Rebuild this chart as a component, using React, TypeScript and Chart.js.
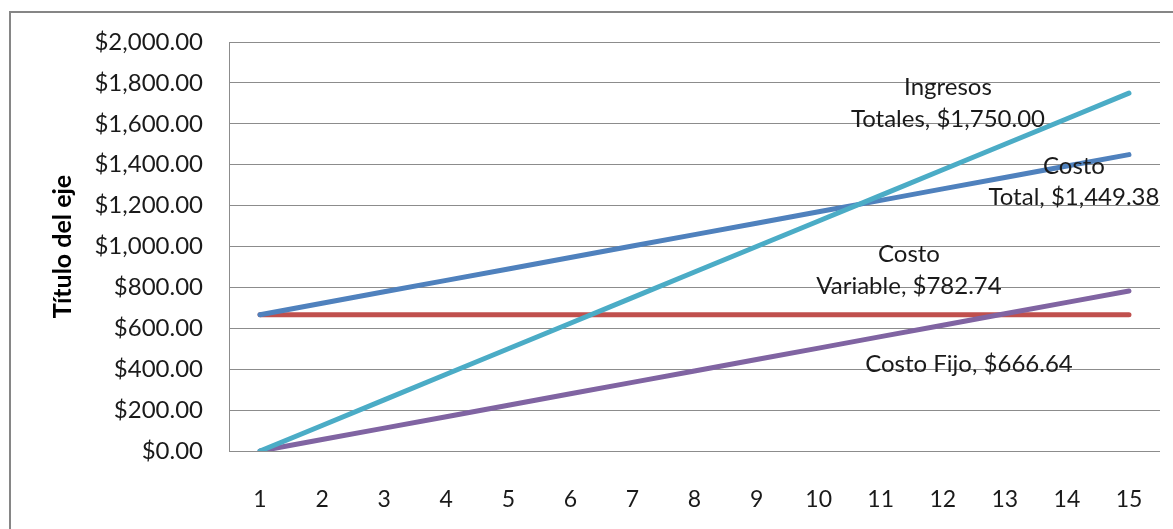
import React, { useEffect, useRef } from "react";
import { Chart, registerables } from "chart.js";

Chart.register(...registerables);

const categories = ["1", "2", "3", "4", "5", "6", "7", "8", "9", "10", "11", "12", "13", "14", "15"];
const ingresosTotales = [0, 125, 250, 375, 500, 625, 750, 875, 1000, 1125, 1250, 1375, 1500, 1625, 1750];
const costoVariable = [0, 55.91, 111.82, 167.73, 223.64, 279.55, 335.46, 391.37, 447.28, 503.19, 559.1, 615.01, 670.92, 726.83, 782.74];
const costoTotal = [666.64, 722.55, 778.46, 834.37, 890.28, 946.19, 1002.1, 1058.01, 1113.92, 1169.83, 1225.74, 1281.65, 1337.56, 1393.47, 1449.38];
const costoFijo = [666.64, 666.64, 666.64, 666.64, 666.64, 666.64, 666.64, 666.64, 666.64, 666.64, 666.64, 666.64, 666.64, 666.64, 666.64];
const yTicks = [0, 200, 400, 600, 800, 1000, 1200, 1400, 1600, 1800, 2000];

const money = (v: number) =>
  "$" + v.toLocaleString("en-US", { minimumFractionDigits: 2, maximumFractionDigits: 2 });

// label layout (offsets relative to last point, in px)
const labelLayout: Record<string, { dx: number; dys: number[]; lines: string[] }> = {
  "Ingresos Totales": { dx: -181, dys: [-6, 26], lines: ["Ingresos", "Totales, " + money(1750)] },
  "Costo Total": { dx: -55, dys: [12, 43], lines: ["Costo", "Total, " + money(1449.38)] },
  "Costo Variable": { dx: -220, dys: [-37, -5], lines: ["Costo", "Variable, " + money(782.74)] },
  "Costo Fijo": { dx: -160, dys: [50], lines: ["Costo Fijo, " + money(666.64)] },
};

const FONT = "Lato, 'Open Sans', sans-serif";

export default function App() {
  const ref = useRef<HTMLCanvasElement | null>(null);
  useEffect(() => {
    if (!ref.current) return;
    const bgPlugin = {
      id: "bgBorder",
      beforeDraw(chart: any) {
        const ctx = chart.ctx;
        ctx.save();
        ctx.fillStyle = "#ffffff";
        ctx.fillRect(0, 0, chart.width, chart.height);
        ctx.strokeStyle = "#868686";
        ctx.lineWidth = 2;
        ctx.strokeRect(10, 12, chart.width + 20, chart.height + 20);
        ctx.restore();
      },
    };
    const labelPlugin = {
      id: "lastLabels",
      afterDatasetsDraw(chart: any) {
        const ctx = chart.ctx;
        ctx.save();
        ctx.font = "24px " + FONT;
        ctx.fillStyle = "#1a1a1a";
        ctx.textAlign = "center";
        ctx.textBaseline = "middle";
        chart.data.datasets.forEach((ds: any, i: number) => {
          const meta = chart.getDatasetMeta(i);
          const pt = meta.data[meta.data.length - 1];
          const lay = labelLayout[ds.label];
          if (!pt || !lay) return;
          lay.lines.forEach((t, k) => ctx.fillText(t, pt.x + lay.dx, pt.y + lay.dys[k]));
        });
        ctx.restore();
      },
    };
    const chart = new Chart(ref.current, {
      type: "line",
      data: {
        labels: categories,
        datasets: [
          { label: "Ingresos Totales", data: ingresosTotales, borderColor: "#4BACC6", backgroundColor: "#4BACC6" },
          { label: "Costo Variable", data: costoVariable, borderColor: "#8064A2", backgroundColor: "#8064A2" },
          { label: "Costo Total", data: costoTotal, borderColor: "#4F81BD", backgroundColor: "#4F81BD" },
          { label: "Costo Fijo", data: costoFijo, borderColor: "#C0504D", backgroundColor: "#C0504D" },
        ].map((d) => ({ ...d, borderWidth: 5, pointRadius: 0, tension: 0, borderCapStyle: "round" as const })),
      },
      options: {
        animation: false,
        responsive: false,
        maintainAspectRatio: false,
        layout: { padding: { left: 0, top: 42, right: 13, bottom: 0 } },
        plugins: { legend: { display: false }, tooltip: { enabled: false } },
        scales: {
          x: {
            offset: true,
            grid: { display: false, offset: true },
            border: { display: false },
            ticks: { color: "#1a1a1a", font: { family: FONT, size: 23 }, padding: 27, maxRotation: 0 },
            afterFit(scale: any) {
              scale.height = 529 - 451;
            },
          },
          y: {
            min: 0,
            max: 2000,
            afterBuildTicks(scale: any) {
              scale.ticks = yTicks.map((v) => ({ value: v }));
            },
            grid: { color: "#8c8c8c", lineWidth: 1, drawTicks: false },
            border: { display: true, color: "#8c8c8c", width: 1 },
            ticks: {
              color: "#1a1a1a",
              font: { family: FONT, size: 24 },
              padding: 26,
              callback: (v: any) => money(Number(v)),
            },
            title: {
              display: true,
              text: "Título del eje",
              color: "#000000",
              font: { family: FONT, size: 25, weight: "bold" },
              padding: { top: 48, bottom: 0 },
            },
            afterFit(scale: any) {
              scale.width = 229;
            },
          },
        },
      },
      plugins: [bgPlugin, labelPlugin],
    });
    return () => chart.destroy();
  }, []);
  return (
    <div style={{ position: "fixed", left: 0, top: 0, width: 1173, height: 529, background: "#fff" }}>
      <canvas ref={ref} width={1173} height={529} style={{ width: 1173, height: 529, display: "block" }} />
    </div>
  );
}
